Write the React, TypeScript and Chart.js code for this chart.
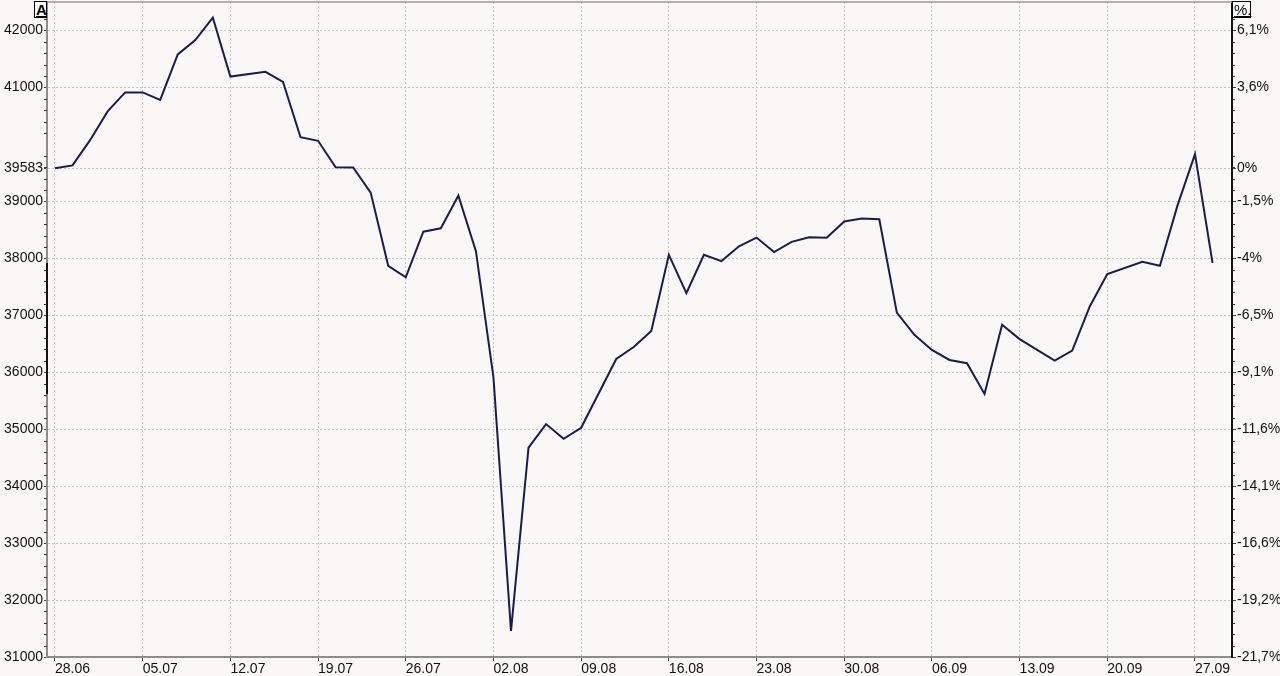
import React, { useEffect, useRef } from "react";
import { Chart, registerables } from "chart.js";

Chart.register(...registerables);

// Weekday calendar (x positions are weekday indexes; holidays have null values)
const dayLabels: string[] = [
  "28.06",
  "01.07", "02.07", "03.07", "04.07", "05.07",
  "08.07", "09.07", "10.07", "11.07", "12.07",
  "15.07", "16.07", "17.07", "18.07", "19.07",
  "22.07", "23.07", "24.07", "25.07", "26.07",
  "29.07", "30.07", "31.07", "01.08", "02.08",
  "05.08", "06.08", "07.08", "08.08", "09.08",
  "12.08", "13.08", "14.08", "15.08", "16.08",
  "19.08", "20.08", "21.08", "22.08", "23.08",
  "26.08", "27.08", "28.08", "29.08", "30.08",
  "02.09", "03.09", "04.09", "05.09", "06.09",
  "09.09", "10.09", "11.09", "12.09", "13.09",
  "16.09", "17.09", "18.09", "19.09", "20.09",
  "23.09", "24.09", "25.09", "26.09", "27.09",
  "30.09",
];

const closes: (number | null)[] = [
  39583,
  39631, 40074, 40580, 40913, 40912,
  40781, 41580, 41831, 42224, 41190,
  null, 41275, 41098, 40126, 40063,
  39599, 39594, 39154, 37869, 37667,
  38468, 38526, 39101, 38126, 35909,
  31458, 34675, 35089, 34831, 35025,
  null, 36232, 36442, 36726, 38062,
  37388, 38063, 37951, 38211, 38364,
  38110, 38288, 38371, 38362, 38647,
  38700, 38686, 37047, 36657, 36391,
  36215, 36159, 35619, 36833, 36581,
  null, 36203, 36380, 37155, 37723,
  null, 37940, 37870, 38925, 39829,
  37919,
];

const weekTickIndexes: number[] = [0, 5, 10, 15, 20, 25, 30, 35, 40, 45, 50, 55, 60, 65];
const priceTicks: number[] = [31000, 32000, 33000, 34000, 35000, 36000, 37000, 38000, 39000, 41000, 42000];
const baseValue = 39583;
const markerRange: number[] = [37919, 35619];

const Y_MIN = 31000;
const Y_MAX = 42500;
const X_MIN = -0.456;
const X_MAX = 67.11;

const FONT = { family: '"Liberation Sans", Arial, sans-serif', size: 14 };
const TEXT = "#111111";
const GRID = "#c6c6c6";
const BG = "#f9f8f6";

const yTickValues = () =>
  [...priceTicks, baseValue].sort((a, b) => a - b).map((v) => ({ value: v }));

const pctLabel = (v: number) => {
  let s = ((v / baseValue - 1) * 100).toFixed(1);
  if (s.endsWith(".0")) s = s.slice(0, -2);
  if (s === "-0") s = "0";
  return s.replace(".", ",") + "%";
};

const zeroPad = (s: any) => {
  s.paddingTop = 0;
  s.paddingBottom = 0;
  s.paddingLeft = 0;
  s.paddingRight = 0;
};

const decorPlugin = {
  id: "decor",
  beforeDraw(chart: any) {
    const { ctx, width, height } = chart;
    ctx.save();
    ctx.fillStyle = BG;
    ctx.fillRect(0, 0, width, height);
    ctx.restore();
  },
  afterDraw(chart: any) {
    const { ctx, chartArea } = chart;
    const y = chart.scales.y;
    ctx.save();
    // top frame line
    ctx.strokeStyle = "#9a9a9a";
    ctx.lineWidth = 1.5;
    ctx.beginPath();
    ctx.moveTo(chartArea.left, chartArea.top);
    ctx.lineTo(chartArea.right, chartArea.top);
    ctx.stroke();
    // minor ticks
    ctx.strokeStyle = "#333";
    ctx.lineWidth = 1;
    for (let v = Y_MIN + 200; v < Y_MAX; v += 200) {
      if (v % 1000 === 0) continue;
      const py = Math.round(y.getPixelForValue(v)) + 0.5;
      ctx.beginPath();
      ctx.moveTo(chartArea.left - 3, py);
      ctx.lineTo(chartArea.left, py);
      ctx.moveTo(chartArea.right, py);
      ctx.lineTo(chartArea.right + 3, py);
      ctx.stroke();
    }
    // dark marker segment on left axis
    ctx.strokeStyle = "#111";
    ctx.lineWidth = 2;
    ctx.beginPath();
    ctx.moveTo(chartArea.left, y.getPixelForValue(markerRange[0]));
    ctx.lineTo(chartArea.left, y.getPixelForValue(markerRange[1]));
    ctx.stroke();
    ctx.restore();
  },
};

export default function App() {
  const canvasRef = useRef<HTMLCanvasElement | null>(null);

  useEffect(() => {
    const canvas = canvasRef.current;
    if (!canvas) return;
    const chart = new Chart(canvas, {
      type: "line",
      data: {
        datasets: [
          {
            data: closes.map((v, i) => ({ x: i, y: v })) as any,
            borderColor: "#1c1b4e",
            borderWidth: 2,
            pointRadius: 0,
            tension: 0,
            spanGaps: true,
            fill: false,
          },
        ],
      },
      options: {
        animation: false,
        responsive: false,
        devicePixelRatio: 1,
        layout: { padding: { top: 2, left: 0, right: 0, bottom: 0 } },
        plugins: { legend: { display: false }, tooltip: { enabled: false } },
        scales: {
          x: {
            type: "linear",
            min: X_MIN,
            max: X_MAX,
            afterBuildTicks: (s: any) => {
              s.ticks = weekTickIndexes.map((v) => ({ value: v }));
            },
            afterFit: (s: any) => {
              s.height = 19;
              zeroPad(s);
            },
            ticks: {
              callback: (v: any) => dayLabels[v] ?? "",
              align: "start",
              font: FONT,
              color: TEXT,
              padding: 0,
              maxRotation: 0,
              autoSkip: false,
            },
            grid: { color: GRID, tickColor: "#444", tickLength: 4, tickBorderDash: [] },
            border: { color: "#8c8c8c", width: 2, dash: [2, 2] },
          },
          y: {
            type: "linear",
            position: "left",
            min: Y_MIN,
            max: Y_MAX,
            afterBuildTicks: (s: any) => {
              s.ticks = yTickValues();
            },
            afterFit: (s: any) => {
              s.width = 47;
              zeroPad(s);
            },
            ticks: {
              callback: (v: any) => String(Math.round(v)),
              font: FONT,
              color: TEXT,
              padding: 1,
            },
            grid: { color: GRID, tickColor: "#444", tickLength: 3, tickBorderDash: [] },
            border: { color: "#8c8c8c", width: 2, dash: [2, 2] },
          },
          y2: {
            type: "linear",
            position: "right",
            min: Y_MIN,
            max: Y_MAX,
            afterBuildTicks: (s: any) => {
              s.ticks = yTickValues();
            },
            afterFit: (s: any) => {
              s.width = 48;
              zeroPad(s);
            },
            ticks: {
              callback: (v: any) => pctLabel(Number(v)),
              font: FONT,
              color: TEXT,
              padding: 1,
            },
            grid: { drawOnChartArea: false, color: GRID, tickColor: "#444", tickLength: 4, tickBorderDash: [] },
            border: { color: "#111", width: 2 },
          },
        },
      },
      plugins: [decorPlugin],
    });
    return () => chart.destroy();
  }, []);

  const boxStyle: React.CSSProperties = {
    position: "absolute",
    top: 1,
    height: 17,
    boxSizing: "border-box",
    border: "1px solid #000",
    background: "#ffffff",
    fontFamily: '"Liberation Sans", Arial, sans-serif',
    fontSize: 15,
    fontWeight: "bold",
    lineHeight: "15px",
    textDecoration: "underline",
    color: "#000",
    padding: "0 1px",
    textAlign: "center",
  };

  return (
    <div
      style={{
        position: "fixed",
        left: 0,
        top: 0,
        width: 1280,
        height: 676,
        background: BG,
        overflow: "hidden",
      }}
    >
      <canvas ref={canvasRef} width={1280} height={676} style={{ display: "block" }} />
      <div style={{ ...boxStyle, left: 34, width: 13 }}>A</div>
      <div style={{ ...boxStyle, left: 1232, width: 19, fontWeight: "normal" }}>%.</div>
    </div>
  );
}
